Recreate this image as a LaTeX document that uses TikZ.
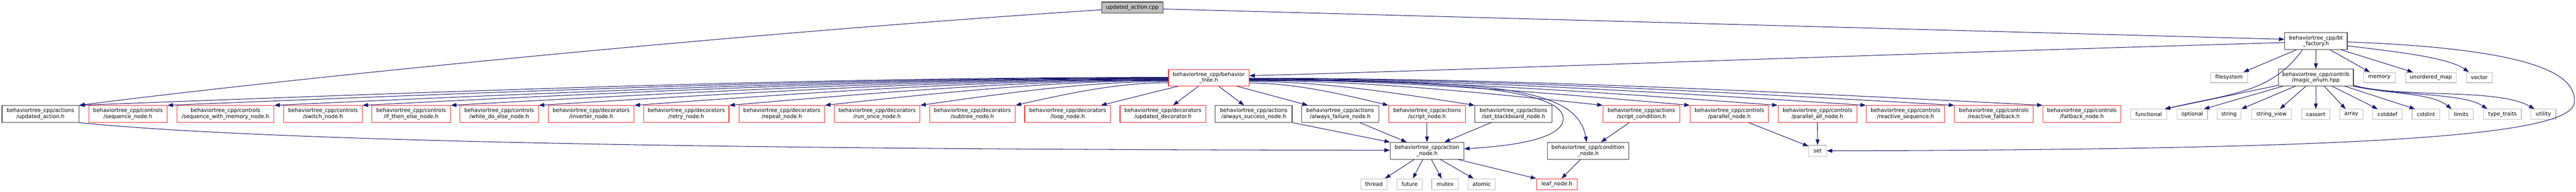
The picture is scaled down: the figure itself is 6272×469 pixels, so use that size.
\documentclass[tikz,border=0pt]{standalone}
\usepackage{fontspec}
\setmainfont{DejaVu Sans}
\usetikzlibrary{arrows.meta}
\definecolor{edgec}{HTML}{191970}
\definecolor{redb}{HTML}{FF2A2A}
\definecolor{grayb}{HTML}{BFBFBF}
\definecolor{darkb}{HTML}{404040}
\tikzset{
 base/.style={rectangle, inner sep=0pt, align=center, font=\fontsize{13}{14.5}\selectfont, line width=1.4pt, fill=white},
 rb/.style={base, draw=redb},
 kb/.style={base, draw=darkb},
 gb/.style={base, draw=grayb},
 topb/.style={base, draw=darkb, fill=grayb},
 edge/.style={draw=edgec, line width=1.3pt, -{Triangle[length=13.5pt,width=9.5pt]}},
}
\newcommand{\gbox}[7]{\node[#1, minimum width={#4-#3}, minimum height={#6-#5}] (#2) at ({(#3+#4)/2},{(#5+#6)/2}) {#7};}
\begin{document}
\begin{tikzpicture}[x=1pt,y=-1pt]
\useasboundingbox (0,0) rectangle (6272,469);
% top nodes
\gbox{topb}{cpp}{2682}{2832}{5}{32}{updated\_action.cpp}
\gbox{rb}{bt}{2845}{3041}{170}{210}{behaviortree\_cpp/behavior\\\_tree.h}
\gbox{kb}{fac}{5563}{5715}{80}{121}{behaviortree\_cpp/bt\\\_factory.h}
\gbox{kb}{magic}{5547}{5730}{169}{210}{behaviortree\_cpp/contrib\\/magic\_enum.hpp}
\gbox{gb}{fs}{5382}{5472}{177}{202}{filesystem}
\gbox{gb}{memory}{5754}{5832}{177}{202}{memory}
\gbox{gb}{umap}{5857}{5980}{177}{202}{unordered\_map}
\gbox{gb}{vector}{6005}{6068}{177}{202}{vector}
% second row
\gbox{kb}{uah}{5}{192}{258}{299}{behaviortree\_cpp/actions\\/updated\_action.h}
\gbox{rb}{seq}{216}{407}{258}{299}{behaviortree\_cpp/controls\\/sequence\_node.h}
\gbox{rb}{seqmem}{431}{667}{258}{299}{behaviortree\_cpp/controls\\/sequence\_with\_memory\_node.h}
\gbox{rb}{sw}{691}{882}{258}{299}{behaviortree\_cpp/controls\\/switch\_node.h}
\gbox{rb}{ite}{905}{1097}{258}{299}{behaviortree\_cpp/controls\\/if\_then\_else\_node.h}
\gbox{rb}{wde}{1120}{1311}{258}{299}{behaviortree\_cpp/controls\\/while\_do\_else\_node.h}
\gbox{rb}{inv}{1335}{1544}{258}{299}{behaviortree\_cpp/decorators\\/inverter\_node.h}
\gbox{rb}{retry}{1567}{1775}{258}{299}{behaviortree\_cpp/decorators\\/retry\_node.h}
\gbox{rb}{repeat}{1799}{2008}{258}{299}{behaviortree\_cpp/decorators\\/repeat\_node.h}
\gbox{rb}{runonce}{2031}{2240}{258}{299}{behaviortree\_cpp/decorators\\/run\_once\_node.h}
\gbox{rb}{subtree}{2263}{2472}{258}{299}{behaviortree\_cpp/decorators\\/subtree\_node.h}
\gbox{rb}{loop}{2495}{2704}{258}{299}{behaviortree\_cpp/decorators\\/loop\_node.h}
\gbox{rb}{upddec}{2727}{2936}{258}{299}{behaviortree\_cpp/decorators\\/updated\_decorator.h}
\gbox{kb}{asucc}{2959}{3146}{258}{299}{behaviortree\_cpp/actions\\/always\_success\_node.h}
\gbox{kb}{afail}{3169}{3357}{258}{299}{behaviortree\_cpp/actions\\/always\_failure\_node.h}
\gbox{rb}{script}{3381}{3568}{258}{299}{behaviortree\_cpp/actions\\/script\_node.h}
\gbox{kb}{setbb}{3591}{3779}{258}{299}{behaviortree\_cpp/actions\\/set\_blackboard\_node.h}
\gbox{rb}{scond}{3903}{4090}{258}{299}{behaviortree\_cpp/actions\\/script\_condition.h}
\gbox{rb}{par}{4115}{4306}{258}{299}{behaviortree\_cpp/controls\\/parallel\_node.h}
\gbox{rb}{parall}{4329}{4521}{258}{299}{behaviortree\_cpp/controls\\/parallel\_all\_node.h}
\gbox{rb}{rseq}{4544}{4735}{258}{299}{behaviortree\_cpp/controls\\/reactive\_sequence.h}
\gbox{rb}{rfb}{4759}{4950}{258}{299}{behaviortree\_cpp/controls\\/reactive\_fallback.h}
\gbox{rb}{fb}{4974}{5164}{258}{299}{behaviortree\_cpp/controls\\/fallback\_node.h}
% std headers row
\gbox{gb}{functional}{5188}{5275}{267}{292}{functional}
\gbox{gb}{optional}{5300}{5375}{267}{292}{optional}
\gbox{gb}{string}{5398}{5456}{267}{292}{string}
\gbox{gb}{stringview}{5482}{5579}{267}{292}{string\_view}
\gbox{gb}{cassert}{5604}{5673}{267}{292}{cassert}
\gbox{gb}{array}{5697}{5753}{267}{292}{array}
\gbox{gb}{cstddef}{5777}{5849}{267}{292}{cstddef}
\gbox{gb}{cstdint}{5873}{5940}{267}{292}{cstdint}
\gbox{gb}{limits}{5963}{6022}{267}{292}{limits}
\gbox{gb}{typetraits}{6047}{6139}{267}{292}{type\_traits}
\gbox{gb}{utility}{6162}{6223}{267}{292}{utility}
% lower nodes
\gbox{kb}{action}{3385}{3564}{348}{389}{behaviortree\_cpp/action\\\_node.h}
\gbox{kb}{cond}{3767}{3966}{348}{389}{behaviortree\_cpp/condition\\\_node.h}
\gbox{gb}{set}{4404}{4447}{355}{382}{set}
\gbox{gb}{thread}{3313}{3377}{437}{463}{thread}
\gbox{gb}{future}{3401}{3463}{437}{463}{future}
\gbox{gb}{mutex}{3486}{3551}{437}{463}{mutex}
\gbox{gb}{atomic}{3574}{3641}{437}{463}{atomic}
\gbox{rb}{leaf}{3741}{3840}{437}{463}{leaf\_node.h}
\coordinate (w1) at (3806,290);
\coordinate (w2) at (6268,250);
% cpp edges
\draw[edge] ([yshift=-5.5pt]cpp.west) .. controls +(-982,64) and +(408,-53) .. (uah.north east);
\draw[edge] ([yshift=-3.5pt]cpp.east) -- ([yshift=4.5pt]fac.west);
% bt left bundle
\draw[edge] ([yshift=1pt]bt.west) .. controls +(-796,0) and +(1061,-41) .. (uah.north east);
\draw[edge] ([yshift=0pt]bt.west) .. controls +(-731,0) and +(975,-40) .. (seq.north east);
\draw[edge] ([yshift=-1pt]bt.west) .. controls +(-653,0) and +(871,-40) .. (seqmem.north east);
\draw[edge] ([yshift=-2pt]bt.west) .. controls +(-589,0) and +(785,-40) .. (sw.north east);
\draw[edge] ([yshift=-3pt]bt.west) .. controls +(-524,0) and +(699,-39) .. (ite.north east);
\draw[edge] ([yshift=-4pt]bt.west) .. controls +(-460,0) and +(614,-38) .. (wde.north east);
\draw[edge] ([yshift=-5pt]bt.west) .. controls +(-390,0) and +(520,-38) .. (inv.north east);
\draw[edge] ([yshift=-6pt]bt.west) .. controls +(-321,0) and +(428,-37) .. (retry.north east);
\draw[edge] ([yshift=-7pt]bt.west) .. controls +(-251,0) and +(335,-37) .. (repeat.north east);
\draw[edge] ([yshift=-9pt]bt.west) .. controls +(-182,0) and +(242,-35) .. (runonce.north east);
\draw[edge] ([yshift=-12pt]bt.west) .. controls +(-112,0) and +(149,-34) .. (subtree.north east);
\draw[edge] ([xshift=-75pt]bt.south) -- ([xshift=-24pt]loop.north east);
\draw[edge] ([xshift=-25pt]bt.south) -- ([xshift=24.5pt]upddec.north);
\draw[edge] ([xshift=24pt]bt.south) -- ([xshift=-23.5pt]asucc.north);
\draw[edge] ([xshift=69pt]bt.south) -- ([xshift=16pt]afail.north west);
% bt right bundle
\draw[edge] ([yshift=-13pt]bt.east) .. controls +(102,0) and +(-136,-33) .. (script.north west);
\draw[edge] ([yshift=-9pt]bt.east) .. controls +(165,0) and +(-220,-35) .. (setbb.north west);
\draw[edge] ([yshift=-7pt]bt.east) .. controls +(259,0) and +(-345,-37) .. (scond.north west);
\draw[edge] ([yshift=-5pt]bt.east) .. controls +(322,0) and +(-430,-38) .. (par.north west);
\draw[edge] ([yshift=-4pt]bt.east) .. controls +(386,0) and +(-515,-38) .. (parall.north west);
\draw[edge] ([yshift=-3pt]bt.east) .. controls +(451,0) and +(-601,-39) .. (rseq.north west);
\draw[edge] ([yshift=-2pt]bt.east) .. controls +(515,0) and +(-687,-40) .. (rfb.north west);
\draw[edge] ([yshift=-1pt]bt.east) .. controls +(580,0) and +(-773,-40) .. (fb.north west);
\draw[edge] ([yshift=-6pt]bt.east) .. controls +(460,0) and +(0,-75) .. (w1) .. controls +(0,55) and +(87,-5) .. ([yshift=5pt]action.east);
\draw[edge] ([yshift=-6pt]bt.east) .. controls +(600,0) and +(-23,-133) .. ([xshift=-3.5pt]cond.north);
% to action / condition
\draw[edge] (uah.south east) .. controls +(408,41) and +(-1785,-1) .. ([yshift=1.5pt]action.west);
\draw[edge] (asucc.south east) -- (action.north west);
\draw[edge] ([xshift=48pt]afail.south) -- ([xshift=-49.5pt]action.north);
\draw[edge] (script.south) -- (action.north);
\draw[edge] ([xshift=-55pt]setbb.south) -- ([xshift=42.5pt]action.north);
\draw[edge] ([xshift=-29.5pt]scond.south) -- ([xshift=31.5pt]cond.north);
\draw[edge] ([xshift=-31.5pt]action.south) -- ([xshift=27pt]thread.north);
\draw[edge] ([xshift=-10.5pt]action.south) -- ([xshift=8pt]future.north);
\draw[edge] ([xshift=10.5pt]action.south) -- ([xshift=-8.5pt]mutex.north);
\draw[edge] ([xshift=32.5pt]action.south) -- ([xshift=-19.5pt]atomic.north);
\draw[edge] ([xshift=75.5pt]action.south) -- (leaf.north west);
\draw[edge] ([xshift=-18.5pt]cond.south) -- ([xshift=11.5pt]leaf.north);
\draw[edge] ([xshift=47.5pt]par.south) -- ([yshift=-3pt]set.north west);
\draw[edge] (parall.south) -- (set.north);
% factory edges
\draw[edge] ([yshift=-3.5pt]fac.west) .. controls +(-1063,31) and +(559,-15) .. ([yshift=5pt]bt.east);
\draw[edge] ([yshift=-2pt]fac.east) .. controls +(485,18) and +(4,-60) .. (w2) .. controls +(-6,80) and +(1353,-3) .. (set.east);
\draw[edge] ([xshift=-48pt]fac.south) -- ([xshift=35pt]fs.north);
\draw[edge] (fac.south) -- (magic.north);
\draw[edge] ([xshift=34pt]fac.south) -- ([xshift=-23pt]memory.north);
\draw[edge] ([xshift=61pt]fac.south) -- ([xshift=-43.5pt]umap.north);
\draw[edge] ([yshift=-11.5pt]fac.east) .. controls +(105,13) and +(-51,-37) .. ([xshift=-25.5pt]vector.north);
\draw[edge] ([xshift=-33pt]fac.south) .. controls +(-76,104) and +(170,-39) .. ([xshift=-5pt]functional.north east);
% magic enum edges
\draw[edge] ([yshift=2pt]magic.south west) -- ([xshift=-5pt]functional.north east);
\draw[edge] ([xshift=12pt]magic.south west) -- ([xshift=28.5pt]optional.north);
\draw[edge] ([xshift=42pt]magic.south west) -- ([xshift=30pt]string.north);
\draw[edge] ([xshift=68pt]magic.south west) -- ([xshift=20.5pt]stringview.north);
\draw[edge] (magic.south) -- (cassert.north);
\draw[edge] ([xshift=20.5pt]magic.south) -- ([xshift=-14pt]array.north);
\draw[edge] ([xshift=39.5pt]magic.south) -- ([xshift=-24pt]cstddef.north);
\draw[edge] ([xshift=70.5pt]magic.south) -- ([xshift=-26.5pt]cstdint.north);
\draw[edge] (magic.south east) .. controls +(90,20) and +(-50,-40) .. ([xshift=-23.5pt]limits.north);
\draw[edge] ([yshift=1pt]magic.south east) .. controls +(110,25) and +(-60,-40) .. ([xshift=-37pt]typetraits.north);
\draw[edge] ([yshift=2pt]magic.south east) .. controls +(120,32) and +(-91,-52) .. ([xshift=-21.5pt]utility.north);
\end{tikzpicture}
\end{document}
